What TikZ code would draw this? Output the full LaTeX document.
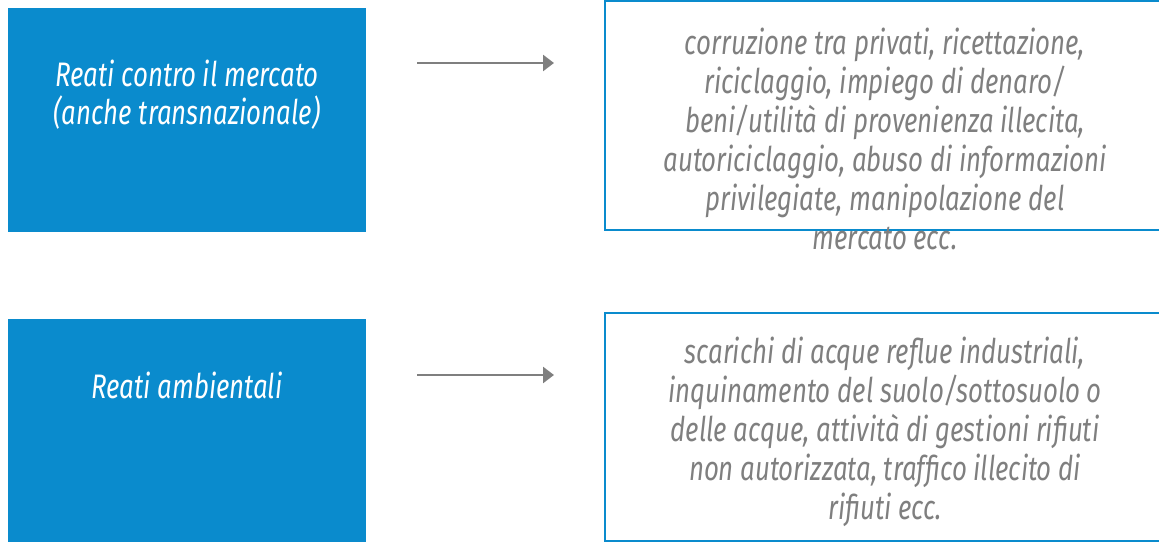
\documentclass[tikz,border=0pt]{standalone}
\usepackage{fontspec}
\setmainfont{Fira Sans}[FakeStretch=0.76]
\usetikzlibrary{arrows.meta}
\definecolor{boxblue}{HTML}{0A8BCD}
\definecolor{txtgray}{HTML}{7F7F7F}
\tikzset{
  bluebox/.style={fill=boxblue, draw=none, inner sep=0pt},
  outlinebox/.style={draw=boxblue, line width=2pt, inner sep=0pt},
  lefttext/.style={text=white, align=center, inner sep=0pt, font=\itshape\fontsize{34}{38}\selectfont},
  righttext/.style={text=txtgray, align=center, inner sep=0pt, font=\itshape\fontsize{34}{39}\selectfont},
  conn/.style={draw=txtgray, line width=2.6pt, -{Triangle[length=11pt,width=16pt]}}
}
\begin{document}
\begin{tikzpicture}[x=1pt,y=-1pt]
\useasboundingbox (0,0) rectangle (1159,545);
% left blue boxes
\node[bluebox, minimum width=358pt, minimum height=224pt] (b1) at (187,120) {};
\node[bluebox, minimum width=358pt, minimum height=223pt] (b2) at (187,430.5) {};
% right outlined boxes (extend past right edge)
\node[outlinebox, minimum width=560pt, minimum height=229pt] (r1) at (885,115.5) {};
\node[outlinebox, minimum width=560pt, minimum height=228pt] (r2) at (885,427) {};
% texts
\node[lefttext, anchor=center] (t1) at (187,95) {Reati contro il mercato\\(anche transnazionale)};
\node[lefttext, anchor=center] (t2) at (187,385) {Reati ambientali};
\node[righttext, anchor=center] (t3) at (885,139) {corruzione tra privati, ricettazione,\\riciclaggio, impiego di denaro/\\beni/utilità di provenienza illecita,\\autoriciclaggio, abuso di informazioni\\privilegiate, manipolazione del\\mercato ecc.};
\node[righttext, anchor=center] (t4) at (885,432) {scarichi di acque reflue industriali,\\inquinamento del suolo/sottosuolo o\\delle acque, attività di gestioni rifiuti\\non autorizzata, traffico illecito di\\rifiuti ecc.};
% connectors
\coordinate (a1s) at (417,63);
\coordinate (a1e) at (554,63);
\coordinate (a2s) at (417,375);
\coordinate (a2e) at (554,375);
\draw[conn] (a1s) -- (a1e);
\draw[conn] (a2s) -- (a2e);
\end{tikzpicture}
\end{document}
